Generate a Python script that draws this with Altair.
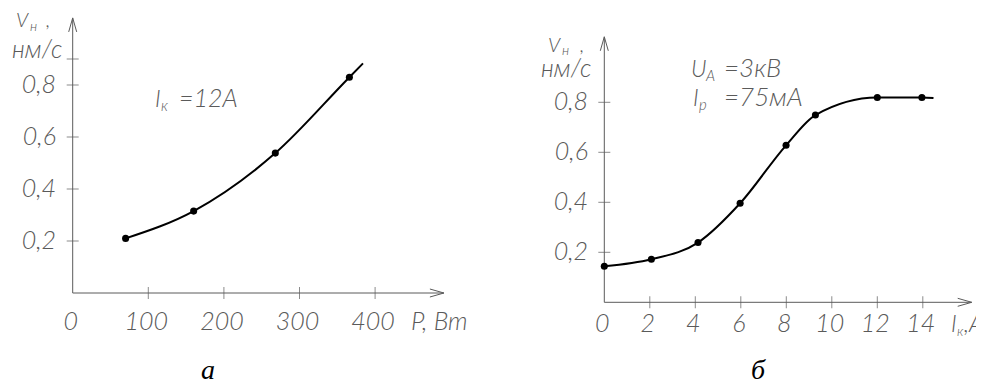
import altair as alt
import pandas as pd

# ---------------- data ----------------
# panel "а": deposition rate vs. power, I_к = 12 A
a_power = [70, 160, 268, 366]
a_rate = [0.21, 0.315, 0.538, 0.83]
a_tail_power = [384]          # where the drawn curve ends (no marker)
a_tail_rate = [0.883]

# panel "б": deposition rate vs. cathode current
b_current = [0, 2.07, 4.12, 5.97, 7.99, 9.28, 12.0, 13.96]
b_rate = [0.144, 0.172, 0.239, 0.396, 0.628, 0.749, 0.819, 0.819]
b_tail_current = [14.47]
b_tail_rate = [0.817]

a_x_ticks = [100, 200, 300, 400]
a_x_labels = [0, 100, 200, 300, 400]
a_y_ticks = [0.2, 0.4, 0.6, 0.8, 0.9]
a_y_labels = [0.2, 0.4, 0.6, 0.8]
b_x_ticks = [2, 4, 6, 8, 10, 12, 14]
b_x_labels = [0, 2, 4, 6, 8, 10, 12, 14]
b_y_ticks = [0.2, 0.4, 0.6, 0.8]
b_y_labels = [0.2, 0.4, 0.6, 0.8]
a_axis_end = [491, 1.058]
b_axis_end = [16.15, 1.062]

# ---------------- styling / layout ----------------
W, H = 968, 377
OFF = 8
AX = "#5a5a5a"
TXT = "#5a5a5a"
FONT = "Lato"
WEIGHT = 300
SERIF = "Liberation Serif"
LBL = 25


def fmt(v):
    return f"{v:.1f}".replace(".", ",")


def txt_layer(text, x, y, size, align="left", font=FONT, style="italic",
              color=TXT, weight=WEIGHT):
    return alt.Chart(alt.Data(values=[{}])).mark_text(
        text=text, font=font, fontSize=size, fontStyle=style, fontWeight=weight,
        color=color, align=align, baseline="alphabetic"
    ).encode(x=alt.value(x - OFF), y=alt.value(y - OFF))


def panel(xs, ys, tx, ty, x_ticks, x_labels, y_ticks, y_labels, axis_end,
          ox, oy, kx, ky, xlab_base, ylab_right, texts):
    vx0, vy0 = ox - OFF, oy - OFF
    xsc = alt.Scale(domain=[-vx0 / kx, (W - vx0) / kx], nice=False, zero=False)
    ysc = alt.Scale(domain=[-(H - vy0) / ky, vy0 / ky], nice=False, zero=False)

    def X(f):
        return alt.X(f, type="quantitative", scale=xsc, axis=None)

    def Y(f):
        return alt.Y(f, type="quantitative", scale=ysc, axis=None)

    axes_df = pd.DataFrame({"x": [0, 0], "y": [0, 0],
                            "x2": [axis_end[0], 0], "y2": [0, axis_end[1]]})
    rules = alt.Chart(axes_df).mark_rule(color=AX, strokeWidth=1).encode(
        x=X("x"), y=Y("y"), x2="x2", y2="y2")

    xt = alt.Chart(pd.DataFrame({"v": x_ticks, "z": [0] * len(x_ticks)})).mark_tick(
        orient="vertical", size=12, thickness=1, color=AX).encode(x=X("v"), y=Y("z"))
    yt = alt.Chart(pd.DataFrame({"v": y_ticks, "z": [0] * len(y_ticks)})).mark_tick(
        orient="horizontal", size=12, thickness=1, color=AX).encode(x=X("z"), y=Y("v"))

    arr_x = alt.Chart(pd.DataFrame({"x": [axis_end[0]], "y": [0]})).mark_point(
        shape="M-3.5,-1L0,0L-3.5,1", size=64, filled=False, color=AX,
        strokeWidth=1, opacity=1).encode(x=X("x"), y=Y("y"))
    arr_y = alt.Chart(pd.DataFrame({"x": [0], "y": [axis_end[1]]})).mark_point(
        shape="M-1,3.5L0,0L1,3.5", size=64, filled=False, color=AX,
        strokeWidth=1, opacity=1).encode(x=X("x"), y=Y("y"))

    xl = alt.Chart(pd.DataFrame({"v": x_labels, "t": [str(v) for v in x_labels]})).mark_text(
        font=FONT, fontSize=LBL, fontStyle="italic", fontWeight=WEIGHT, color=TXT,
        baseline="alphabetic", align="center", dx=-2).encode(
        x=X("v"), y=alt.value(xlab_base - OFF), text="t:N")
    yl = alt.Chart(pd.DataFrame({"v": y_labels, "t": [fmt(v) for v in y_labels]})).mark_text(
        font=FONT, fontSize=LBL, fontStyle="italic", fontWeight=WEIGHT, color=TXT,
        baseline="middle", align="right").encode(
        x=alt.value(ylab_right - OFF), y=Y("v"), text="t:N")

    curve = alt.Chart(pd.DataFrame({"x": xs + tx, "y": ys + ty})).mark_line(
        interpolate="monotone", color="black", strokeWidth=2).encode(x=X("x"), y=Y("y"))
    pts = alt.Chart(pd.DataFrame({"x": xs, "y": ys})).mark_circle(
        size=50, color="black", opacity=1).encode(x=X("x"), y=Y("y"))

    layers = [rules, xt, yt, arr_x, arr_y, xl, yl, curve, pts]
    layers += [txt_layer(*t[:4], **(t[4] if len(t) > 4 else {})) for t in texts]
    return alt.layer(*layers)


CAP = {"align": "center", "font": SERIF, "color": "black", "weight": 400}
a_texts = [
    ("V", 16, 27, 20), ("н", 30, 31, 14), (",", 46, 27, 20),
    ("нм/с", 12, 58, 25),
    ("I", 155, 107, 23), ("к", 161, 111, 15), ("=12A", 179, 107, 25),
    ("P, Вт", 411, 330, LBL),
    ("а", 208, 379, 28, CAP),
]
b_texts = [
    ("V", 548, 52, 20), ("н", 562, 55, 14), (",", 580, 52, 20),
    ("нм/с", 541, 77, 25),
    ("U", 691, 77, 23), ("A", 706, 81, 15), ("=3кВ", 724, 77, 26),
    ("I", 693, 106, 23), ("р", 699, 110, 15), ("=75мА", 724, 106, 26),
    ("I", 951, 332, 23), ("к", 957, 336, 14), (",A", 964, 332, 23),
    ("б", 758, 379, 28, CAP),
]

pa = panel(a_power, a_rate, a_tail_power, a_tail_rate, a_x_ticks, a_x_labels,
           a_y_ticks, a_y_labels, a_axis_end, 72.7, 293.0, 0.756, 260.0, 330, 56, a_texts)
pb = panel(b_current, b_rate, b_tail_current, b_tail_rate, b_x_ticks, b_x_labels,
           b_y_ticks, b_y_labels, b_axis_end, 604.3, 302.3, 22.75, 250.0, 332, 588, b_texts)

chart = alt.layer(pa, pb).resolve_scale(x="independent", y="independent").properties(
    width=W, height=H, autosize=alt.AutoSizeParams(type="none"), padding=0,
    background="white"
).configure_view(stroke=None)

chart.save("out.html", embed_options={"renderer": "svg", "actions": False})
